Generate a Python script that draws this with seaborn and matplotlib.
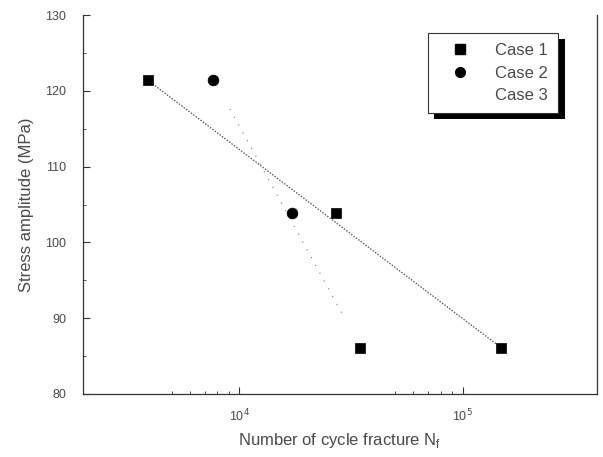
import matplotlib
matplotlib.use("Agg")
import matplotlib.pyplot as plt
import matplotlib.patheffects as pe
import numpy as np
import pandas as pd
import seaborn as sns
from matplotlib.lines import Line2D
from matplotlib.ticker import FixedLocator, LogLocator, NullFormatter

# cycles to fracture and stress amplitude (MPa)
case1_cycles = [3900, 27100, 34700, 149000]
case1_stress = [121.4, 103.9, 86.1, 86.1]
case2_cycles = [7650, 17200]
case2_stress = [121.4, 103.9]
case3_cycles = []
case3_stress = []

# fitted lines
fit1_cycles = [3900, 149000]
fit1_stress = [121.4, 86.1]
fit2_cycles = [9100, 29400]
fit2_stress = [117.6, 90.2]

y_ticks = [80, 90, 100, 110, 120, 130]
x_ticks = [1e4, 1e5]
x_tick_labels = ["10$^4$", "10$^5$"]

TEXT_COLOR = "#4a4a4a"

sns.set_theme(style="ticks")
plt.rcParams["font.family"] = ["Liberation Sans", "DejaVu Sans"]

points = pd.DataFrame({
    "cycles": case1_cycles + case2_cycles + case3_cycles,
    "stress": case1_stress + case2_stress + case3_stress,
    "case": ["Case 1"] * len(case1_cycles) + ["Case 2"] * len(case2_cycles) + ["Case 3"] * len(case3_cycles),
})

fig = plt.figure(figsize=(6.03, 4.57), dpi=100)
ax = fig.add_axes([83 / 603, 1 - 394 / 457, (597 - 83) / 603, (394 - 15) / 457])

sns.lineplot(x=fit1_cycles, y=fit1_stress, ax=ax, color="#555555", lw=0.9,
             linestyle=(0, (1.2, 1.2)), legend=False)
sns.lineplot(x=fit2_cycles, y=fit2_stress, ax=ax, color="#777777", lw=0.8,
             linestyle=(0, (1, 7)), legend=False)

sns.scatterplot(data=points[points["case"] == "Case 1"], x="cycles", y="stress", ax=ax,
                marker="s", s=60, color="black", edgecolor="black", linewidth=0.5, legend=False, zorder=3)
sns.scatterplot(data=points[points["case"] == "Case 2"], x="cycles", y="stress", ax=ax,
                marker="o", s=60, color="black", edgecolor="black", linewidth=0.5, legend=False, zorder=3)

ax.set_xscale("log")
ax.set_xlim(2000, 4e5)
ax.set_ylim(80, 130)

ax.xaxis.set_major_locator(FixedLocator(x_ticks))
ax.set_xticklabels(x_tick_labels)
ax.xaxis.set_minor_locator(LogLocator(base=10, subs=[5, 6, 7, 8, 9]))
ax.xaxis.set_minor_formatter(NullFormatter())
ax.set_yticks(y_ticks)
ax.set_yticks([85, 95, 105, 115, 125], minor=True)

ax.tick_params(axis="both", which="major", direction="in", length=5, width=0.8,
               colors="#333333", labelcolor=TEXT_COLOR, labelsize=9)
ax.tick_params(axis="y", which="major", pad=12)
ax.tick_params(axis="x", which="major", pad=10)
ax.tick_params(axis="both", which="minor", direction="in", length=2.5, width=0.6, colors="#333333")

for side in ["left", "bottom", "right"]:
    ax.spines[side].set_color("#333333")
    ax.spines[side].set_linewidth(0.9)
ax.spines["top"].set_visible(False)

ax.set_xlabel("Number of cycle fracture N$_\\mathregular{f}$", fontsize=12, color=TEXT_COLOR, labelpad=5)
ax.set_ylabel("Stress amplitude (MPa)", fontsize=12, color=TEXT_COLOR, labelpad=8)

handles = [
    Line2D([], [], marker="s", color="black", linestyle="none", markersize=7),
    Line2D([], [], marker="o", color="black", linestyle="none", markersize=7),
    Line2D([], [], linestyle="none"),
]
leg = ax.legend(handles, ["Case 1", "Case 2", "Case 3"], loc="upper left",
                bbox_to_anchor=(0.671, 0.9525), borderaxespad=0, fontsize=12,
                frameon=True, fancybox=False, handlelength=2.6, handletextpad=0.85,
                borderpad=0.6, labelspacing=0.45, labelcolor=TEXT_COLOR)
frame = leg.get_frame()
frame.set_edgecolor("#333333")
frame.set_linewidth(0.8)
frame.set_alpha(1)
frame.set_path_effects([pe.SimplePatchShadow(offset=(4.5, -4.5), shadow_rgbFace="black", alpha=1.0), pe.Normal()])

fig.savefig("out.png", dpi=100)
